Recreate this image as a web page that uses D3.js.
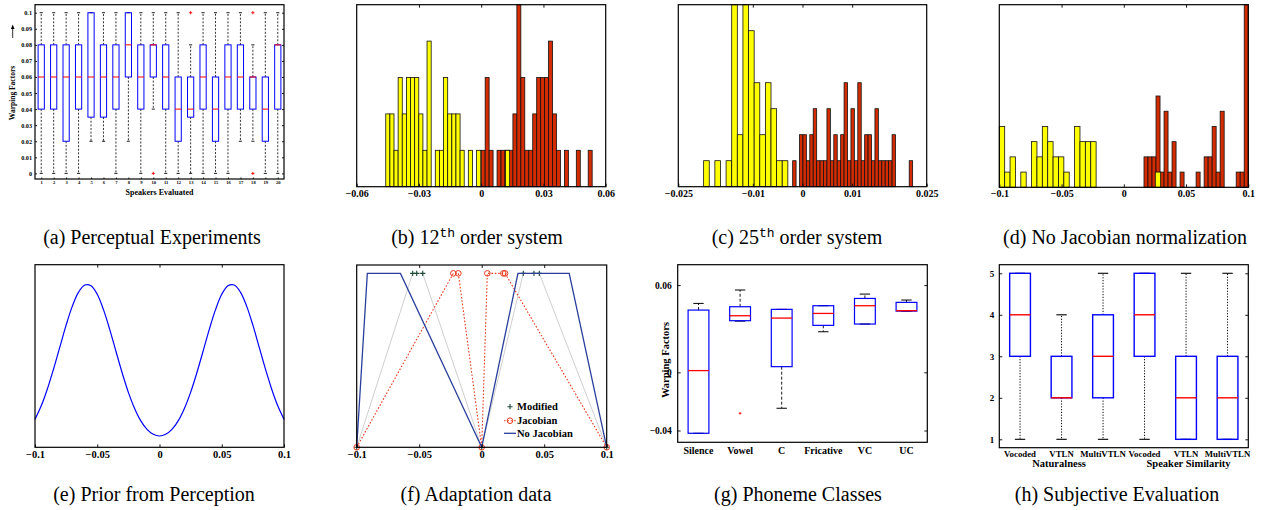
<!DOCTYPE html>
<html><head><meta charset="utf-8">
<script src="https://cdn.jsdelivr.net/npm/d3@7"></script>
<style>body{margin:0;background:#fff}svg{display:block}</style>
</head><body>
<svg id="c" width="1261" height="510"></svg>
<script>
// ---------------- DATA ----------------
// (a) Perceptual experiments: boxplots per speaker
const aSpeakers = [1,2,3,4,5,6,7,8,9,10,11,12,13,14,15,16,17,18,19,20];
const aYTicks = [0,0.01,0.02,0.03,0.04,0.05,0.06,0.07,0.08,0.09,0.1];
const aQ1  = [0.04,0.04,0.02,0.04,0.035,0.035,0.04,0.06,0.04,0.06,0.04,0.02,0.035,0.04,0.02,0.04,0.04,0.04,0.02,0.04];
const aMed = [0.06,0.06,0.06,0.06,0.06,0.06,0.06,0.08,0.06,0.08,0.06,0.04,0.04,0.06,0.04,0.06,0.06,0.06,0.04,0.08];
const aQ3  = [0.08,0.08,0.08,0.08,0.1,0.08,0.08,0.1,0.08,0.08,0.08,0.06,0.06,0.08,0.06,0.08,0.08,0.06,0.06,0.08];
const aLo  = [0,0,0,0,0.02,0.02,0,0.02,0,0.04,0,0,0,0,0,0,0.02,0.02,0,0];
const aHi  = [0.1,0.1,0.1,0.1,0.1,0.1,0.1,0.1,0.1,0.1,0.1,0.1,0.08,0.1,0.1,0.1,0.1,0.08,0.1,0.1];
const aOut = [[10,0],[13,0.1],[18,0.1],[18,0]];

// (b) 12th order system histograms
const bTicks = [-0.06,-0.03,0,0.03,0.06];
const bTopTicks = [-0.03,0,0.03];
const bYellowStart = -0.046, bYellowW = 0.00199;
const bYellowN = [2,2,1,3,2,3,3,3,2,1,4,0,1,1,3,2,2,2,1,0,1,0,1,0,0,0,0,0,0,1];
const bRedStart = 0.0, bRedW = 0.00191;
const bRedN = [1,3,1,0,1,1,1,1,2,5,3,1,1,2,3,3,3,4,2,1,0,1,0,0,1,0,0,1];

// (c) 25th order system histograms
const cTicks = [-0.025,-0.01,0,0.01,0.025];
const cTopTicks = [-0.01,0,0.01];
const cYellowStart = -0.0199, cYellowW = 0.00113;
const cYellowN = [1,0,1,0,1,7,2,7,6,4,2,4,3,1,1];
const cRedStart = -0.00198, cRedW = 0.00069;
const cRedN = [1,0,2,2,1,2,3,1,1,1,3,1,2,1,2,4,1,3,1,4,1,2,2,1,3,1,1,1,1,2,0,0,0,0,1];

// (d) No Jacobian normalization histograms
const dTicks = [-0.1,-0.05,0,0.05,0.1];
const dTopTicks = [-0.05,0,0.05];
const dYellowStart = -0.1, dYellowW = 0.00432;
const dYellowN = [4,1,2,0,1,0,3,2,4,3,2,2,1,0,4,3,3,3,0,0,0,0,0,0,0,0,0,0,0,1];
const dRedStart = 0.01622, dRedW = 0.00322;
const dRedN = [2,2,2,6,1,5,1,3,0,1,0,0,0,1,0,2,2,4,1,5,0,0,0,1,1,12];

// (e) Prior from perception (curve)
const eTicks = [-0.1,-0.05,0,0.05,0.1];
const eX = [-0.1,-0.095,-0.09,-0.085,-0.08,-0.075,-0.07,-0.065,-0.06,-0.055,-0.05,-0.045,-0.04,-0.035,-0.03,-0.025,-0.02,-0.015,-0.01,-0.005,0,
            0.005,0.01,0.015,0.02,0.025,0.03,0.035,0.04,0.045,0.05,0.055,0.06,0.065,0.07,0.075,0.08,0.085,0.09,0.095,0.1];
const eY = [0.153,0.227,0.321,0.431,0.550,0.669,0.773,0.850,0.889,0.885,0.838,0.754,0.646,0.526,0.408,0.301,0.213,0.145,0.098,0.071,0.062,
            0.071,0.098,0.145,0.213,0.301,0.408,0.526,0.646,0.754,0.838,0.885,0.889,0.850,0.773,0.669,0.550,0.431,0.321,0.227,0.153];

// (f) Adaptation data
const fTicks = [-0.1,-0.05,0,0.05,0.1];
const fModX = [-0.1,-0.0552,-0.052,-0.0472,0,0.0333,0.0418,0.0461,0.1];
const fModY = [0,1,1,1,0,1,1,1,0];
const fJacX = [-0.1,-0.0227,-0.0187,0,0.0045,0.0173,0.0187,0.1];
const fJacY = [0,1,1,0,1,1,1,0];
const fNoJX = [-0.1,-0.0915,-0.065,0,0.029,0.070,0.1];
const fNoJY = [0,1,1,0,1,1,0];
const fLegend = ["Modified","Jacobian","No Jacobian"];

// (g) Phoneme classes
const gCats = ["Silence","Vowel","C","Fricative","VC","UC"];
const gYTicks = [-0.04,0,0.06];
const gQ1  = [-0.0419,0.0355,0.0039,0.0323,0.0332,0.0421];
const gMed = [0.0012,0.0389,0.0373,0.0405,0.0458,0.0424];
const gQ3  = [0.0428,0.0451,0.0433,0.0458,0.0508,0.0481];
const gLo  = [-0.0419,0.0352,-0.0247,0.0279,0.0332,0.0421];
const gHi  = [0.0474,0.0566,0.0433,0.0458,0.0538,0.0497];
const gOut = [[2,-0.0282]];

// (h) Subjective evaluation
const hCats = ["Vocoded","VTLN","MultiVTLN","Vocoded","VTLN","MultiVTLN"];
const hGroups = ["Naturalness","Speaker Similarity"];
const hYTicks = [1,2,3,4,5];
const hQ1  = [3,2,2,3,1,1];
const hMed = [4,2,3,4,2,2];
const hQ3  = [5,3,4,5,3,3];
const hLo  = [1,1,1,1,1,1];
const hHi  = [5,4,5,5,5,5];

const captions = [
  {t:"(a) Perceptual Experiments", x:152, y:244},
  {t:"(b) 12", sup:"th", rest:" order system", x:477, y:244},
  {t:"(c) 25", sup:"th", rest:" order system", x:797, y:244},
  {t:"(d) No Jacobian normalization", x:1125, y:244},
  {t:"(e) Prior from Perception", x:154, y:501},
  {t:"(f) Adaptation data", x:476, y:501},
  {t:"(g) Phoneme Classes", x:798, y:501},
  {t:"(h) Subjective Evaluation", x:1117, y:501}
];

// ---------------- DRAWING ----------------
const FONT = "'Liberation Serif','Times New Roman',Times,serif";
const svg = d3.select("#c");
const BLUE = "#0000ff", RED = "#ff0000";

function fmt(v){ if (v === 0) return "0"; return (v < 0 ? "\u2212" : "") + String(+Math.abs(v).toFixed(4)); }

function frame(L,T,R,B){
  svg.append("rect").attr("x",L).attr("y",T).attr("width",R-L).attr("height",B-T)
    .attr("fill","none").attr("stroke","#000").attr("stroke-width",1.2);
}
function styleAxis(g, fs){
  g.select(".domain").remove();
  g.selectAll("line").attr("stroke","#000").attr("stroke-width",0.9);
  g.selectAll("text").attr("font-family",FONT).attr("font-weight","bold")
    .attr("font-size",fs).attr("fill","#000");
}
function bottomAxis(x, B, ticks, fs, base){
  const g = svg.append("g").attr("transform",`translate(0,${B})`)
    .call(d3.axisBottom(x).tickValues(ticks).tickSize(-3).tickFormat(fmt));
  styleAxis(g, fs);
  g.selectAll("text").attr("y", base).attr("dy", null);
  return g;
}
function topTicks(x, T, ticks){
  const g = svg.append("g").attr("transform",`translate(0,${T})`)
    .call(d3.axisTop(x).tickValues(ticks).tickSize(-3).tickFormat(""));
  styleAxis(g, 8);
}
function leftAxis(y, L, ticks, fs, gap, len){
  const g = svg.append("g").attr("transform",`translate(${L},0)`)
    .call(d3.axisLeft(y).tickValues(ticks).tickSize(-(len||3)).tickFormat(fmt));
  styleAxis(g, fs);
  g.selectAll("text").attr("x", -gap);
}
function rightTicks(y, R, ticks, len){
  const g = svg.append("g").attr("transform",`translate(${R},0)`)
    .call(d3.axisRight(y).tickValues(ticks).tickSize(-(len||3)).tickFormat(""));
  styleAxis(g, 8);
}
function plus(g, cx, cy, s, color, w){
  g.append("path").attr("d",`M${cx-s},${cy}H${cx+s}M${cx},${cy-s}V${cy+s}`)
    .attr("stroke",color).attr("stroke-width",w||1).attr("fill","none");
}

// ---- histogram panel ----
function histPanel(o){
  const x = d3.scaleLinear().domain(o.xdom).range([o.L,o.R]);
  const y = d3.scaleLinear().domain([0,o.ymax]).range([o.B,o.T]);
  const g = svg.append("g");
  o.series.forEach(s => {
    const bins = s.n.map((n,i)=>({x0:s.start+i*s.w, x1:s.start+(i+1)*s.w, n})).filter(d=>d.n>0);
    g.selectAll(null).data(bins).join("rect")
      .attr("x",d=>x(d.x0)).attr("width",d=>x(d.x1)-x(d.x0))
      .attr("y",d=>y(d.n)).attr("height",d=>y(0)-y(d.n))
      .attr("fill",s.color).attr("stroke","#111").attr("stroke-width",0.8);
  });
  bottomAxis(x, o.B, o.ticks, 10, 10);
  topTicks(x, o.T, o.top);
  frame(o.L,o.T,o.R,o.B);
}
const YEL = "#ffff00", ORG = "#d42c00";
histPanel({L:356.7,R:605.7,T:4.7,B:186.7,xdom:[-0.06,0.06],ymax:5,ticks:bTicks,top:bTopTicks,
  series:[{start:bRedStart,w:bRedW,n:bRedN,color:ORG},{start:bYellowStart,w:bYellowW,n:bYellowN,color:YEL}]});
histPanel({L:678.3,R:926.7,T:4.7,B:186.7,xdom:[-0.025,0.025],ymax:7,ticks:cTicks,top:cTopTicks,
  series:[{start:cRedStart,w:cRedW,n:cRedN,color:ORG},{start:cYellowStart,w:cYellowW,n:cYellowN,color:YEL}]});
histPanel({L:999.3,R:1248.3,T:4.7,B:187.3,xdom:[-0.1,0.1],ymax:12,ticks:dTicks,top:dTopTicks,
  series:[{start:dRedStart,w:dRedW,n:dRedN,color:ORG},{start:dYellowStart,w:dYellowW,n:dYellowN,color:YEL}]});

// ---- boxplot panel ----
function boxPanel(o){
  const n = o.q1.length;
  const x = d3.scaleLinear().domain([0.5,n+0.5]).range([o.L,o.R]);
  const y = d3.scaleLinear().domain(o.ydom).range([o.B,o.T]);
  const g = svg.append("g");
  const idx = d3.range(n);
  const bw = 0.25, cw = 0.125;
  g.selectAll(null).data(idx).join("line")
    .attr("x1",i=>x(i+1)).attr("x2",i=>x(i+1)).attr("y1",i=>y(o.q3[i])).attr("y2",i=>y(o.hi[i]))
    .attr("stroke","#000").attr("stroke-width",o.wl||1).attr("stroke-dasharray",o.dash);
  g.selectAll(null).data(idx).join("line")
    .attr("x1",i=>x(i+1)).attr("x2",i=>x(i+1)).attr("y1",i=>y(o.q1[i])).attr("y2",i=>y(o.lo[i]))
    .attr("stroke","#000").attr("stroke-width",o.wl||1).attr("stroke-dasharray",o.dash);
  [o.hi,o.lo].forEach(arr=>{
    g.selectAll(null).data(idx).join("line")
      .attr("x1",i=>x(i+1-cw)).attr("x2",i=>x(i+1+cw)).attr("y1",i=>y(arr[i])).attr("y2",i=>y(arr[i]))
      .attr("stroke","#000").attr("stroke-width",o.cl||1);
  });
  g.selectAll(null).data(idx).join("rect")
    .attr("x",i=>x(i+1-bw)).attr("width",i=>x(i+1+bw)-x(i+1-bw))
    .attr("y",i=>y(o.q3[i])).attr("height",i=>y(o.q1[i])-y(o.q3[i]))
    .attr("fill","none").attr("stroke",BLUE).attr("stroke-width",o.bl||1.1);
  g.selectAll(null).data(idx).join("line")
    .attr("x1",i=>x(i+1-bw)).attr("x2",i=>x(i+1+bw)).attr("y1",i=>y(o.med[i])).attr("y2",i=>y(o.med[i]))
    .attr("stroke",RED).attr("stroke-width",o.ml||1.2);
  (o.out||[]).forEach(p=>plus(g, x(p[0]), y(p[1]), o.ps||1.8, RED, 0.9));
  return {x,y};
}

// (a)
{
  const L=35,R=284,T=4.7,B=179;
  const s = boxPanel({L,R,T,B,ydom:[-0.0035,0.105],q1:aQ1,med:aMed,q3:aQ3,lo:aLo,hi:aHi,out:aOut,
    dash:"2,1.6",wl:0.8,cl:0.9,bl:1,ml:1,ps:1.6});
  leftAxis(s.y, L, aYTicks, 6.2, 3, 2);
  rightTicks(s.y, R, aYTicks, 2);
  const gx = bottomAxis(s.x, B, aSpeakers, 4.6, 5);
  gx.selectAll("line").attr("y2",-1.5);
  frame(L,T,R,B);
  svg.append("text").attr("x",(L+R)/2).attr("y",194.5).attr("text-anchor","middle")
    .attr("font-family",FONT).attr("font-weight","bold").attr("font-size",8).text("Speakers Evaluated");
  svg.append("text").attr("transform","translate(15.3,93) rotate(-90)").attr("text-anchor","middle")
    .attr("font-family",FONT).attr("font-weight","bold").attr("font-size",7.5).text("Warping Factors");
  svg.append("line").attr("x1",12.7).attr("x2",12.7).attr("y1",38).attr("y2",28)
    .attr("stroke","#000").attr("stroke-width",0.8);
  svg.append("path").attr("d","M12.7,24.5L10.9,29L14.5,29Z").attr("fill","#000");
}

// (e)
{
  const L=35,R=284,T=264.7,B=447.3;
  const x = d3.scaleLinear().domain([-0.1,0.1]).range([L,R]);
  const y = d3.scaleLinear().domain([0,1]).range([B,T]);
  const pts = eX.map((v,i)=>[v,eY[i]]);
  svg.append("path").attr("d", d3.line().x(d=>x(d[0])).y(d=>y(d[1])).curve(d3.curveCatmullRom.alpha(0.5))(pts))
    .attr("fill","none").attr("stroke",BLUE).attr("stroke-width",1.2);
  bottomAxis(x, B, eTicks, 10.5, 11);
  topTicks(x, T, [-0.05,0,0.05]);
  frame(L,T,R,B);
}

// (f)
{
  const L=356.7,R=606.7,T=265,B=447.3;
  const x = d3.scaleLinear().domain([-0.1,0.1]).range([L,R]);
  const y = d3.scaleLinear().domain([0,1.048]).range([B,T]);
  const line = d3.line().x(d=>x(d[0])).y(d=>y(d[1]));
  const g = svg.append("g");
  const mod = fModX.map((v,i)=>[v,fModY[i]]);
  const jac = fJacX.map((v,i)=>[v,fJacY[i]]);
  const noj = fNoJX.map((v,i)=>[v,fNoJY[i]]);
  g.append("path").attr("d",line(mod)).attr("fill","none").attr("stroke","#cfcfcf").attr("stroke-width",1);
  mod.forEach(p=>plus(g,x(p[0]),y(p[1]),2.6,"#1d4a37",1.1));
  g.append("path").attr("d",line(jac)).attr("fill","none").attr("stroke","#e8391e").attr("stroke-width",1.1).attr("stroke-dasharray","1.6,1.8");
  g.selectAll(null).data(jac).join("circle").attr("cx",d=>x(d[0])).attr("cy",d=>y(d[1])).attr("r",2.8)
    .attr("fill","none").attr("stroke","#e8391e").attr("stroke-width",1);
  g.append("path").attr("d",line(noj)).attr("fill","none").attr("stroke","#2a3f9c").attr("stroke-width",1.3);
  bottomAxis(x, B, fTicks, 10.5, 11);
  topTicks(x, T, [-0.05,0,0.05]);
  frame(L,T,R,B);
  const ly = [406.7,420.7,433.3];
  plus(g, 510, ly[0], 2.6, "#1d4a37", 1.1);
  g.append("line").attr("x1",504).attr("x2",516).attr("y1",ly[1]).attr("y2",ly[1])
    .attr("stroke","#e8391e").attr("stroke-width",1.1).attr("stroke-dasharray","1.6,1.8");
  g.append("circle").attr("cx",510).attr("cy",ly[1]).attr("r",2.8).attr("fill","none").attr("stroke","#e8391e");
  g.append("line").attr("x1",504).attr("x2",516).attr("y1",ly[2]).attr("y2",ly[2]).attr("stroke","#2a3f9c").attr("stroke-width",1.3);
  g.selectAll(null).data(fLegend).join("text").attr("x",517).attr("y",(d,i)=>ly[i]+3.7)
    .attr("font-family",FONT).attr("font-weight","bold").attr("font-size",10.5).text(d=>d);
}

// (g)
{
  const L=677.7,R=927.3,T=264.7,B=442.3;
  const s = boxPanel({L,R,T,B,ydom:[-0.0481,0.074],q1:gQ1,med:gMed,q3:gQ3,lo:gLo,hi:gHi,out:gOut,
    dash:"3,2",wl:0.9,cl:1,bl:1.2,ml:1.3,ps:1.3});
  leftAxis(s.y, L, gYTicks, 9.5, 6);
  rightTicks(s.y, R, gYTicks);
  frame(L,T,R,B);
  svg.selectAll(null).data(gCats).join("text").attr("x",(d,i)=>s.x(i+1)).attr("y",454)
    .attr("text-anchor","middle").attr("font-family",FONT).attr("font-weight","bold").attr("font-size",10).text(d=>d);
  svg.append("text").attr("transform","translate(668.5,360) rotate(-90)").attr("text-anchor","middle")
    .attr("font-family",FONT).attr("font-weight","bold").attr("font-size",10.5).text("Warping Factors");
}

// (h)
{
  const L=999.3,R=1248.3,T=264.7,B=447.7;
  const s = boxPanel({L,R,T,B,ydom:[0.798,5.207],q1:hQ1,med:hMed,q3:hQ3,lo:hLo,hi:hHi,
    dash:"1.2,1.6",wl:1,cl:1.1,bl:1.4,ml:1.4});
  leftAxis(s.y, L, hYTicks, 9, 5);
  rightTicks(s.y, R, hYTicks);
  frame(L,T,R,B);
  svg.selectAll(null).data(hCats).join("text").attr("x",(d,i)=>s.x(i+1)).attr("y",456.5)
    .attr("text-anchor","middle").attr("font-family",FONT).attr("font-weight","bold").attr("font-size",8.8).text(d=>d);
  svg.selectAll(null).data(hGroups).join("text").attr("x",(d,i)=>s.x(2+3*i)-(i?-2.5:2.5)).attr("y",466.5)
    .attr("text-anchor","middle").attr("font-family",FONT).attr("font-weight","bold").attr("font-size",10.5).text(d=>d);
}

// captions
captions.forEach(c=>{
  const t = svg.append("text").attr("x",c.x).attr("y",c.y).attr("text-anchor","middle")
    .attr("font-family",FONT).attr("font-size",20).attr("fill","#000");
  t.append("tspan").text(c.t);
  if (c.sup){
    t.append("tspan").attr("font-family","'Liberation Mono','DejaVu Sans Mono',monospace").attr("font-size",13).attr("dy",-7).text(c.sup);
    t.append("tspan").attr("dy",7).text(c.rest);
  }
});
</script>
</body></html>
